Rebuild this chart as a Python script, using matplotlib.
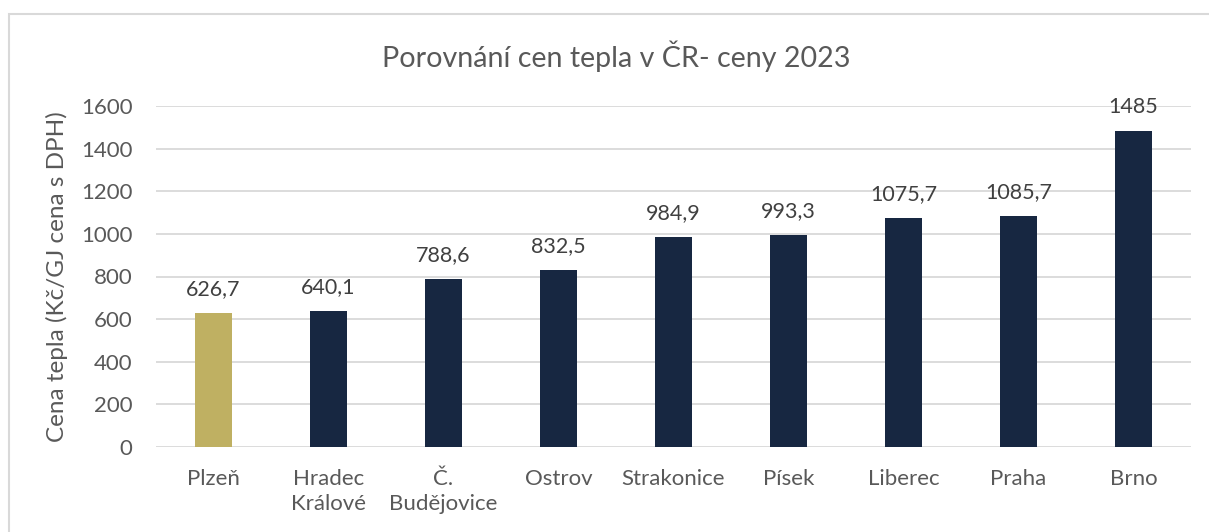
import matplotlib.pyplot as plt
from matplotlib.patches import Rectangle

cities = ["Plzeň", "Hradec\nKrálové", "Č.\nBudějovice", "Ostrov", "Strakonice",
          "Písek", "Liberec", "Praha", "Brno"]
prices = [626.7, 640.1, 788.6, 832.5, 984.9, 993.3, 1075.7, 1085.7, 1485]
price_labels = ["626,7", "640,1", "788,6", "832,5", "984,9", "993,3", "1075,7", "1085,7", "1485"]

gold = "#BFB062"
navy = "#172741"
text_grey = "#595959"
grid_grey = "#D9D9D9"

plt.rcParams['font.family'] = ['Lato', 'DejaVu Sans']

fig = plt.figure(figsize=(12.09, 5.32), dpi=100)
ax = fig.add_axes([156 / 1209, 85 / 532, 1035 / 1209, 341 / 532])

colors = [gold] + [navy] * (len(cities) - 1)
x = range(len(cities))
bars = ax.bar(x, prices, width=0.32, color=colors, zorder=3)

for bar, lab in zip(bars, price_labels):
    ax.annotate(lab, (bar.get_x() + bar.get_width() / 2, bar.get_height()),
                xytext=(0, 10), textcoords='offset points', ha='center', va='bottom',
                fontsize=15.5, color="#404040")

ax.set_xlim(-0.5, len(cities) - 0.5)
ax.set_ylim(0, 1600)
ax.set_yticks(range(0, 1601, 200))
ax.set_xticks(list(x))
ax.set_xticklabels(cities, linespacing=1.3)
ax.tick_params(axis='x', length=0, pad=16, labelsize=16, labelcolor=text_grey)
ax.tick_params(axis='y', length=0, pad=17, labelsize=16, labelcolor=text_grey)
ax.grid(axis='y', color=grid_grey, linewidth=1.3, zorder=0)
for s in ax.spines.values():
    s.set_visible(False)

ax.set_ylabel("Cena tepla (Kč/GJ cena s DPH)", fontsize=17.5, color=text_grey, labelpad=9)
fig.text(616 / 1209, 1 - 56 / 532, "Porovnání cen tepla v ČR- ceny 2023",
         ha='center', va='center', fontsize=20.6, color=text_grey)

# chart border (extends past the bottom/right edge as in the original)
fig.patches.append(Rectangle((9 / 1209, -0.1), 1.2, 1 - 14 / 532 + 0.1,
                             transform=fig.transFigure, fill=False,
                             edgecolor=grid_grey, linewidth=1.5))

fig.savefig("out.png", dpi=100)
